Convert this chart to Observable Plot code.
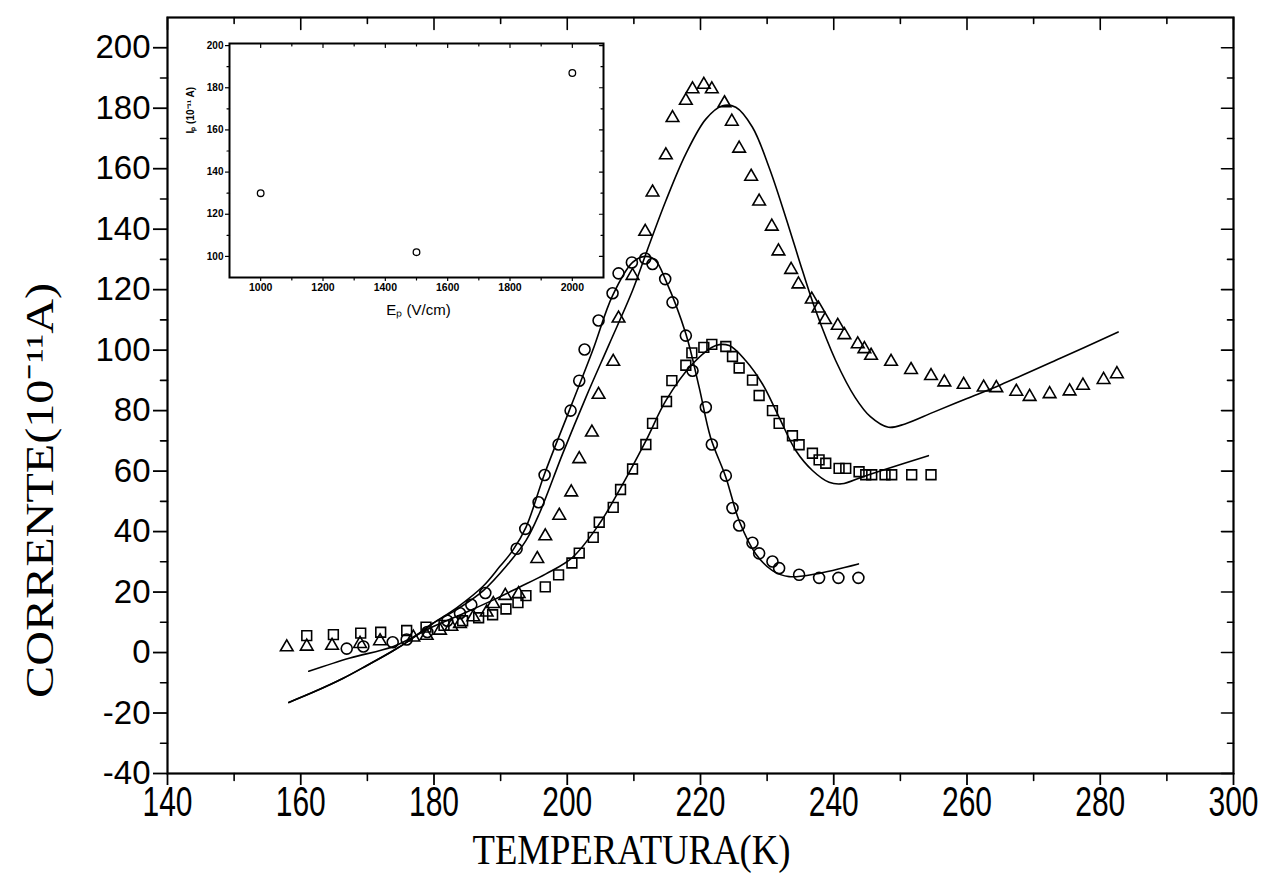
<!DOCTYPE html>
<html><head><meta charset="utf-8">
<script src="https://cdn.jsdelivr.net/npm/d3@7"></script>
<script src="https://cdn.jsdelivr.net/npm/@observablehq/plot@0.6"></script>
<style>
html,body{margin:0;padding:0;background:#fff;}
#wrap{position:relative;width:1281px;height:880px;background:#fff;}
#wrap svg{position:absolute;left:0;top:0;}
</style></head><body><div id="wrap"></div>
<script>
// ---- main chart data: circles ----
const circT = [166.9,169.4,173.8,175.9,179.0,182.0,183.9,185.6,187.7,192.4,193.7,195.7,196.6,198.7,200.5,201.8,202.6,204.7,206.8,207.7,209.7,211.7,212.8,214.7,215.8,217.8,218.8,220.8,221.7,223.8,224.8,225.8,227.8,228.8,230.8,231.8,234.8,237.8,240.7,243.7];
const circI = [1.3,2.0,3.4,4.3,6.8,10.5,13.0,15.8,19.7,34.3,40.9,49.7,58.7,68.8,80.0,89.9,100.2,109.8,118.8,125.4,129.0,130.3,128.5,123.5,115.8,104.8,93.2,81.1,68.8,58.5,47.8,42.0,36.3,32.8,30.1,27.9,25.7,24.7,24.7,24.7];
// ---- triangles ----
const triT = [157.9,160.9,164.7,168.9,171.9,176.9,178.9,180.9,182.6,183.9,185.9,187.9,188.9,190.7,192.7,195.5,196.7,198.8,200.6,201.8,203.7,204.7,206.9,207.7,209.8,211.7,212.8,214.8,215.8,217.8,218.8,220.5,221.7,223.6,224.7,225.8,227.6,228.8,230.7,231.7,233.6,234.7,236.7,237.7,238.7,240.6,241.6,243.6,244.6,245.6,248.6,251.6,254.6,256.6,259.5,262.5,264.4,267.4,269.4,272.4,275.4,277.4,280.5,282.5];
const triI = [1.8,2.0,2.3,2.9,3.8,5.0,5.6,7.3,8.6,9.5,11.7,13.3,16.1,18.8,19.4,31.0,38.5,45.3,53.0,64.0,72.8,85.3,96.2,110.5,124.6,139.2,152.2,164.5,176.8,182.5,186.3,187.8,186.3,181.7,175.6,166.7,157.4,149.2,140.9,132.7,126.6,121.8,116.8,113.8,110.0,108.1,105.0,102.0,100.4,98.2,96.2,93.5,91.5,89.4,88.6,87.7,87.5,86.3,84.6,85.5,86.4,88.3,90.2,92.1];
// ---- squares ----
const sqT = [160.9,164.9,169.0,172.0,175.9,178.8,181.5,184.3,186.7,188.8,190.8,192.6,193.8,196.7,198.7,200.7,201.8,203.9,204.8,206.9,208.0,209.8,211.8,212.8,214.9,215.7,217.8,218.7,220.5,221.7,223.8,224.8,225.8,227.8,228.8,230.8,231.8,233.8,234.8,236.8,237.8,238.8,240.8,241.8,243.8,244.8,245.7,247.7,248.7,251.7,254.6];
const sqI = [5.6,5.9,6.4,6.7,7.3,8.4,9.0,10.5,11.5,12.5,14.4,16.5,18.8,21.7,25.7,29.6,32.9,38.1,43.1,48.0,53.9,60.7,68.8,75.8,83.0,89.9,95.0,99.1,100.9,101.9,101.2,97.9,94.1,90.1,85.0,80.0,75.8,71.7,68.7,65.9,63.7,62.6,60.9,60.9,59.8,58.8,58.8,58.8,58.8,58.8,58.8];
// ---- fitted curves ----
const fitCT = [158.2,162,166.3,170,173.8,176.5,179.8,183.4,187.4,189.9,191.8,193.8,196.6,200.3,203.8,206.8,209.8,211.7,213.2,214.8,217.8,219.8,221.5,223.8,225.8,228.3,230.8,233.3,237.3,243.7];
const fitCI = [-16.5,-13,-8.6,-4.2,0.5,4.3,9.6,14.8,22,28.5,33.7,41.4,59.1,80,99.8,118,129,131,129.8,123,105.4,87.7,71.2,58,43.6,32.6,27.1,25.1,26,29.3];
const fitTT = [158.2,162,166.3,170,173.8,176.5,179.8,183.4,187.4,191,193.8,195.8,199.3,202.8,206.3,209.8,212,214.8,217.8,220.8,223.3,225.3,227.8,230.3,232.8,235.3,237.3,240.3,243.2,245.5,248.2,250.7,255,260,265,274,282.7];
const fitTI = [-16.5,-13,-8.6,-4.2,0.5,4.3,9.6,14.2,20.5,29,37,45.9,65.7,84.4,102,119.7,133,149.4,164.9,176.4,180.8,180.3,173.7,160.4,143.9,126.3,113,96.5,84.4,78,74.5,75.6,79.5,84,88.5,97.3,106];
const fitST = [161.2,167.4,173.9,179.8,185,189,192.8,196.8,200.8,204.8,207.8,211.8,214.8,218.8,222.3,224.3,226.8,229.3,231.8,234.3,236.8,239.3,241.2,244.2,247.2,254.2];
const fitSI = [-6.2,-1.8,2,8.5,13.5,17.5,21.6,26,31.5,42.5,53.6,70,83.3,95.4,101.5,101.5,96.5,88.8,77.8,66.8,60.2,56.3,55.8,58,60.2,65.1];
// ---- ticks ----
const xMajor = [140,160,180,200,220,240,260,280,300];
const xMinor = [150,170,190,210,230,250,270,290];
const yMajor = [-40,-20,0,20,40,60,80,100,120,140,160,180,200];
const yMinor = [-30,-10,10,30,50,70,90,110,130,150,170,190];
const xTitle = "TEMPERATURA(K)";
const yTitle = "CORRENTE(10\u207B\u00B9\u00B9A)";
// ---- inset data ----
const insetE = [1000,1500,2000];
const insetI = [130,102,187];
const ixMajor = [1000,1200,1400,1600,1800,2000];
const ixMinor = [1100,1300,1500,1700,1900];
const iyMajor = [100,120,140,160,180,200];
const iyMinor = [110,130,150,170,190];
const ixTitle = "E\u209A (V/cm)";
const iyTitle = "I\u209A (10\u207B\u00B9\u00B9 A)";

const zip = (a,b) => a.map((v,i)=>({x:v,y:b[i]}));
const circ = zip(circT,circI), tri = zip(triT,triI), sq = zip(sqT,sqI);
const fits = [zip(fitCT,fitCI), zip(fitTT,fitTI), zip(fitST,fitSI)];
const tickShape = {draw(c,l){c.moveTo(0,0);c.lineTo(0,-l);}};
const tk = (data, axis, anchor, rot, len, sw=1.6) => Plot.vector(data, {
  [axis]: d=>d, frameAnchor: anchor, rotate: rot, length: len, anchor: "start",
  shape: tickShape, stroke: "black", strokeWidth: sw});

const main = Plot.plot({
  width: 1281, height: 880,
  marginLeft: 167, marginRight: 48, marginTop: 17, marginBottom: 107,
  x: {domain: [140,300]},
  y: {domain: [-40,210]},
  style: {background: "white", color: "black"},
  marks: [
    Plot.frame({stroke: "black", strokeWidth: 2.2}),
    Plot.axisY(yMajor, {anchor: "left", tickSize: 14, tickPadding: 3, strokeWidth: 1.8,
      fontSize: 33, fontFamily: "Liberation Sans, Arial, sans-serif", tickFormat: d => String(d), label: null}),
    Plot.axisX(xMajor, {anchor: "bottom", tickSize: 12, tickPadding: 1, strokeWidth: 1.8,
      fontSize: 42, fontFamily: "Liberation Sans, Arial, sans-serif", tickFormat: d => String(d), label: null}),
    tk(yMinor, "y", "left", -90, 7),
    tk(xMinor, "x", "bottom", 180, 7),
    tk(xMajor, "x", "top", 180, 12),
    tk(xMinor, "x", "top", 180, 6),
    tk(yMajor, "y", "right", -90, 12),
    tk(yMinor, "y", "right", -90, 6),
    ...fits.map(f => Plot.line(f, {x: "x", y: "y", stroke: "black", strokeWidth: 1.6, curve: "catmull-rom"})),
    Plot.dot(circ, {x: "x", y: "y", r: 5.5, symbol: "circle", stroke: "black", strokeWidth: 1.6, fill: "none"}),
    Plot.dot(tri, {x: "x", y: "y", r: 4.7, symbol: "triangle", stroke: "black", strokeWidth: 1.6, fill: "none"}),
    Plot.dot(sq, {x: "x", y: "y", r: 5.5, symbol: "square", stroke: "black", strokeWidth: 1.6, fill: "none"}),
    Plot.text([xTitle], {frameAnchor: "bottom", dx: -69, dy: 77, text: d => d, fontSize: 42,
      fontFamily: "Liberation Serif, Times New Roman, serif", lineAnchor: "middle", textAnchor: "middle", fill: "black"}),
    Plot.text([yTitle], {frameAnchor: "left", dx: -127, dy: 95, rotate: -90, text: d => d, fontSize: 40,
      fontFamily: "Liberation Serif, Times New Roman, serif", lineAnchor: "middle", textAnchor: "middle", fill: "black"})
  ]
});

const inset = Plot.plot({
  width: 620, height: 330,
  marginLeft: 229, marginRight: 17, marginTop: 43, marginBottom: 53,
  x: {domain: [900,2100]},
  y: {domain: [90,201]},
  style: {background: "none", color: "black"},
  marks: [
    Plot.frame({fill: "white", stroke: "black", strokeWidth: 2}),
    Plot.axisY(iyMajor, {anchor: "left", tickSize: 4, tickPadding: 2, strokeWidth: 1.2,
      fontSize: 10, fontWeight: "bold", fontFamily: "Liberation Sans, Arial, sans-serif", label: null}),
    Plot.axisX(ixMajor, {anchor: "bottom", tickSize: 4, tickPadding: 2, strokeWidth: 1.2,
      fontSize: 10.5, fontWeight: "bold", fontFamily: "Liberation Sans, Arial, sans-serif", tickFormat: d => String(d), label: null}),
    tk(iyMinor, "y", "left", -90, 2.5, 1.2),
    tk(ixMinor, "x", "bottom", 180, 2.5, 1.2),
    tk(ixMajor, "x", "top", 180, 4, 1.2),
    tk(ixMinor, "x", "top", 180, 2.5, 1.2),
    tk(iyMajor, "y", "right", -90, 4, 1.2),
    tk(iyMinor, "y", "right", -90, 2.5, 1.2),
    Plot.dot(zip(insetE, insetI), {x: "x", y: "y", r: 3.3, stroke: "black", strokeWidth: 1.3, fill: "none"}),
    Plot.text([ixTitle], {frameAnchor: "bottom", dx: 2, dy: 33, text: d => d, fontSize: 15,
      fontFamily: "Liberation Sans, Arial, sans-serif", lineAnchor: "middle", fill: "black"}),
    Plot.text([iyTitle], {frameAnchor: "left", dx: -39, dy: -27, rotate: -90, text: d => d, fontSize: 10,
      fontWeight: "bold", fontFamily: "Liberation Sans, Arial, sans-serif", lineAnchor: "middle", fill: "black"})
  ]
});

const wrap = document.getElementById("wrap");
wrap.appendChild(main);
wrap.appendChild(inset);
// condense the axis titles and x tick labels like the scanned original
d3.select(main).selectAll("text").filter(function(){ return this.textContent === xTitle; })
  .attr("textLength", 318).attr("lengthAdjust", "spacingAndGlyphs");
d3.select(main).selectAll("text").filter(function(){ return this.textContent === yTitle; })
  .attr("textLength", 415).attr("lengthAdjust", "spacingAndGlyphs");
d3.select(main).selectAll('g[aria-label="x-axis tick label"] text')
  .attr("textLength", 50).attr("lengthAdjust", "spacingAndGlyphs");
</script>
</body></html>
